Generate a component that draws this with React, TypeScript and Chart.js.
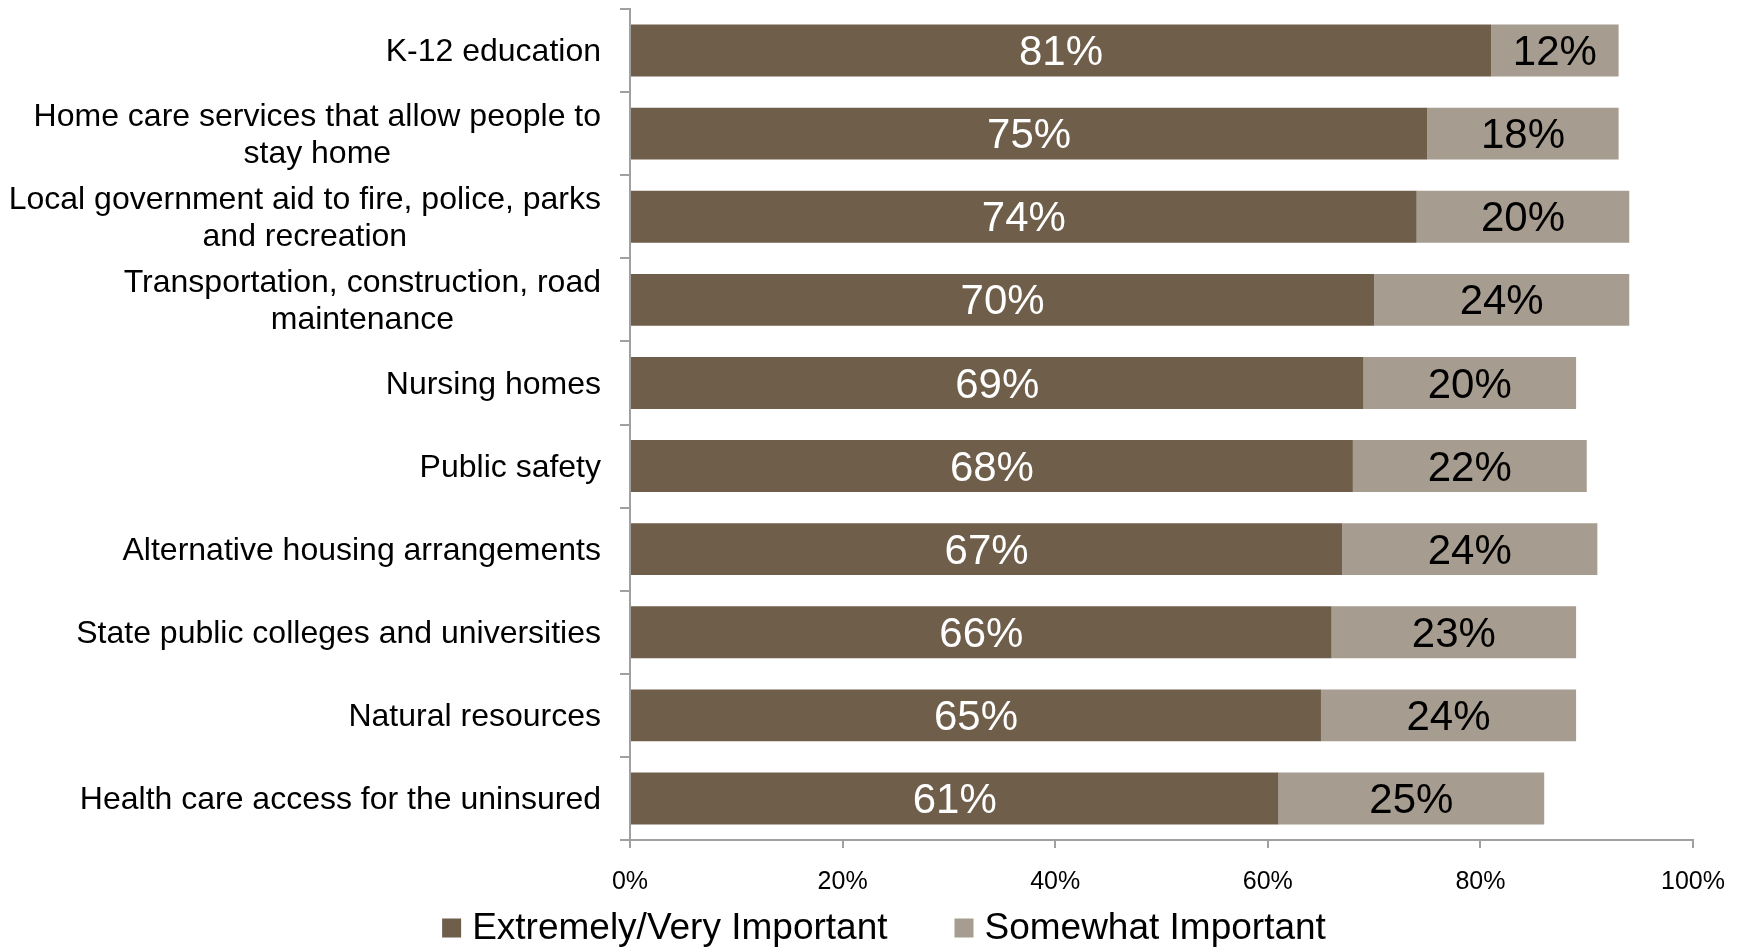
import React, { useEffect, useRef } from "react";
import { Chart, registerables } from "chart.js";

Chart.register(...registerables);

const categories: (string | string[])[] = [
  "K-12 education",
  ["Home care services that allow people to", "stay home"],
  ["Local government aid to fire, police, parks", "and recreation"],
  ["Transportation, construction, road", "maintenance"],
  "Nursing homes",
  "Public safety",
  "Alternative housing arrangements",
  "State public colleges and universities",
  "Natural resources",
  "Health care access for the uninsured",
];

const extremelyVery = [81, 75, 74, 70, 69, 68, 67, 66, 65, 61];
const somewhat = [12, 18, 20, 24, 20, 22, 24, 23, 24, 25];

const seriesNames = ["Extremely/Very Important", "Somewhat Important"];
const seriesColors = ["#6F5E4A", "#A69C90"];
const xTicks = [0, 20, 40, 60, 80, 100];

const FONT = "'Liberation Sans', Arial, sans-serif";

const dataLabelPlugin = {
  id: "dataLabels",
  afterDatasetsDraw(chart: any) {
    const ctx = chart.ctx;
    ctx.save();
    ctx.font = `42px ${FONT}`;
    ctx.textAlign = "center";
    ctx.textBaseline = "middle";
    chart.data.datasets.forEach((ds: any, di: number) => {
      const meta = chart.getDatasetMeta(di);
      meta.data.forEach((bar: any, i: number) => {
        const v = ds.data[i];
        const { x, base, y } = bar.getProps(["x", "base", "y"], true);
        ctx.fillStyle = di === 0 ? "#ffffff" : "#000000";
        ctx.fillText(`${v}%`, (x + base) / 2, y + 3);
      });
    });
    ctx.restore();
  },
};

// Multi-line category labels: right-aligned block, lines centred inside it.
const centerMultilinePlugin = {
  id: "centerMultiline",
  beforeDraw(chart: any) {
    const scale = chart.scales.y;
    if (!scale) return;
    const items = scale.getLabelItems(chart.chartArea);
    const ctx = chart.ctx;
    ctx.save();
    items.forEach((it: any) => {
      if (it._adjusted) return;
      it._adjusted = true;
      it.options.translation[1] += 2;
      if (Array.isArray(it.label)) {
        ctx.font = it.font.string;
        const maxW = Math.max(...it.label.map((l: string) => ctx.measureText(l).width));
        it.options.textAlign = "center";
        it.options.translation[0] -= maxW / 2;
      }
    });
    ctx.restore();
  },
};

const bottomLegendPlugin = {
  id: "bottomLegend",
  afterDraw(chart: any) {
    const ctx = chart.ctx;
    const box = 19;
    const gap = 11;
    const spacing = 67;
    ctx.save();
    ctx.font = `37px ${FONT}`;
    ctx.textBaseline = "middle";
    ctx.textAlign = "left";
    const items = chart.data.datasets.map((ds: any) => ({
      text: ds.label,
      color: ds.backgroundColor,
      w: ctx.measureText(ds.label).width,
    }));
    const total =
      items.reduce((s: number, it: any) => s + box + gap + it.w, 0) +
      spacing * (items.length - 1);
    let x = chart.width / 2 + 12 - total / 2;
    const cy = 928;
    items.forEach((it: any) => {
      ctx.fillStyle = it.color;
      ctx.fillRect(x, cy - box / 2, box, box);
      x += box + gap;
      ctx.fillStyle = "#000";
      ctx.fillText(it.text, x, cy + 1);
      x += it.w + spacing;
    });
    ctx.restore();
  },
};

export default function App() {
  const ref = useRef<HTMLCanvasElement>(null);
  useEffect(() => {
    document.body.style.margin = "0";
    const chart = new Chart(ref.current!, {
      type: "bar",
      data: {
        labels: categories,
        datasets: [
          {
            label: seriesNames[0],
            data: extremelyVery,
            backgroundColor: seriesColors[0],
            barPercentage: 0.625,
            categoryPercentage: 1,
          },
          {
            label: seriesNames[1],
            data: somewhat,
            backgroundColor: seriesColors[1],
            barPercentage: 0.625,
            categoryPercentage: 1,
          },
        ],
      },
      options: {
        indexAxis: "y",
        animation: false,
        responsive: false,
        maintainAspectRatio: false,
        layout: { padding: { top: 9, right: 50, left: 0, bottom: 58 } },
        scales: {
          x: {
            stacked: true,
            min: 0,
            max: 100,
            afterBuildTicks: (scale: any) => {
              scale.ticks = xTicks.map((v) => ({ value: v }));
            },
            afterFit: (scale: any) => {
              scale.height = 52;
            },
            ticks: {
              callback: (v: any) => `${v}%`,
              color: "#000",
              font: { family: FONT, size: 25 },
              padding: 19,
              maxRotation: 0,
            },
            grid: {
              drawOnChartArea: false,
              tickLength: 8,
              color: "#a0a0a0",
              lineWidth: 2,
            },
            border: { color: "#a0a0a0", width: 2 },
          },
          y: {
            stacked: true,
            afterFit: (scale: any) => {
              scale.width = 630;
              scale.paddingTop = 0;
              scale.paddingBottom = 0;
            },
            ticks: {
              autoSkip: false,
              color: "#000",
              font: { family: FONT, size: 32, lineHeight: 1.16 },
              padding: 19,
            },
            grid: {
              drawOnChartArea: false,
              tickLength: 10,
              color: "#a0a0a0",
              lineWidth: 2,
              offset: true,
            },
            border: { color: "#a0a0a0", width: 2 },
          },
        },
        plugins: {
          legend: { display: false },
          tooltip: { enabled: false },
        },
      },
      plugins: [centerMultilinePlugin, dataLabelPlugin, bottomLegendPlugin],
    });
    return () => chart.destroy();
  }, []);
  return <canvas ref={ref} width={1744} height={950} style={{ display: "block" }} />;
}
